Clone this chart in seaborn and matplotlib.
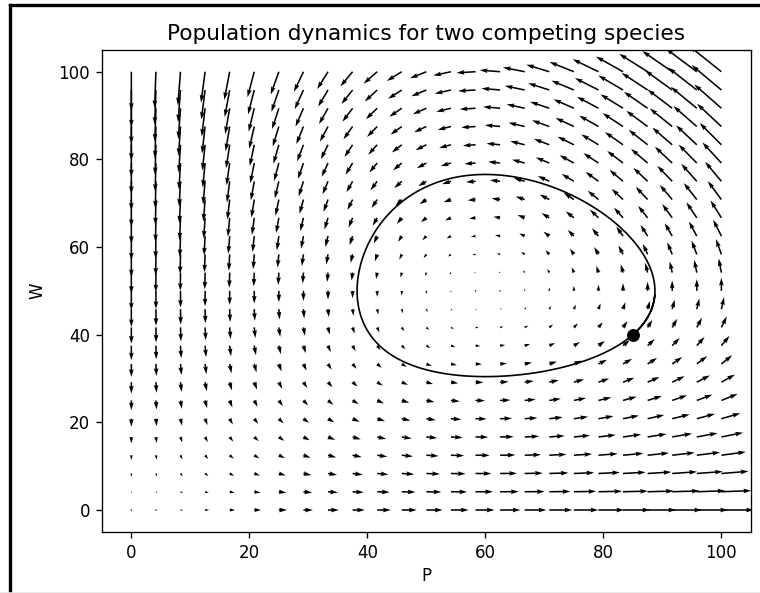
import numpy as np
import pandas as pd
import matplotlib
matplotlib.use("Agg")
import matplotlib.pyplot as plt
from matplotlib.lines import Line2D
import seaborn as sns

# Lotka-Volterra predator/prey model:
#   dP/dt = P * (alpha - beta * W)
#   dW/dt = W * (-gamma + delta * P)
alpha = 1.0
beta = 0.02
gamma = 1.2
delta = 0.02

# grid on which the direction field is sampled
grid_min, grid_max, grid_n = 0.0, 100.0, 25

# initial state of the highlighted trajectory
P0, W0 = 85.0, 40.0

x_ticks = [0, 20, 40, 60, 80, 100]
y_ticks = [0, 20, 40, 60, 80, 100]


def rates(P, W):
    return P * (alpha - beta * W), W * (-gamma + delta * P)


def rk4(p, w, dt, steps):
    ps, ws = [p], [w]
    for _ in range(steps):
        k1 = rates(p, w)
        k2 = rates(p + 0.5 * dt * k1[0], w + 0.5 * dt * k1[1])
        k3 = rates(p + 0.5 * dt * k2[0], w + 0.5 * dt * k2[1])
        k4 = rates(p + dt * k3[0], w + dt * k3[1])
        p = p + dt / 6 * (k1[0] + 2 * k2[0] + 2 * k3[0] + k4[0])
        w = w + dt / 6 * (k1[1] + 2 * k2[1] + 2 * k3[1] + k4[1])
        ps.append(p)
        ws.append(w)
    return np.array(ps), np.array(ws)


fig = plt.figure(figsize=(760 / 120, 593 / 120), dpi=120)
ax = fig.add_axes([0.134, 0.103, 0.854, 0.813])

g = np.linspace(grid_min, grid_max, grid_n)
PP, WW = np.meshgrid(g, g)
U, V = rates(PP, WW)
ax.quiver(PP, WW, U, V, color="black")

# one closed orbit through the initial state
ps, ws = rk4(P0, W0, 0.002, 3100)
orbit = pd.DataFrame({"P": ps, "W": ws})
sns.lineplot(data=orbit, x="P", y="W", sort=False, estimator=None,
             color="black", linewidth=1.0, ax=ax)
start = pd.DataFrame({"P": [P0], "W": [W0]})
sns.scatterplot(data=start, x="P", y="W", color="black", s=60,
                linewidth=0, ax=ax, zorder=5)

ax.set_xlim(-5, 105)
ax.set_ylim(-5, 105)
ax.set_xticks(x_ticks)
ax.set_yticks(y_ticks)
ax.set_xlabel("P", labelpad=3)
ax.set_ylabel("W", labelpad=7)
ax.set_title("Population dynamics for two competing species", fontsize=13)

# frame lines along the left and top edges of the figure
fig.add_artist(Line2D([10 / 760, 10 / 760], [0, 1 - 5 / 593],
                      transform=fig.transFigure, color="black", linewidth=2))
fig.add_artist(Line2D([10 / 760, 1], [1 - 5 / 593, 1 - 5 / 593],
                      transform=fig.transFigure, color="black", linewidth=2))
fig.add_artist(Line2D([0, 1], [0.5 / 593, 0.5 / 593],
                      transform=fig.transFigure, color="#e6e6e6", linewidth=1))

fig.savefig("out.png", dpi=120)
